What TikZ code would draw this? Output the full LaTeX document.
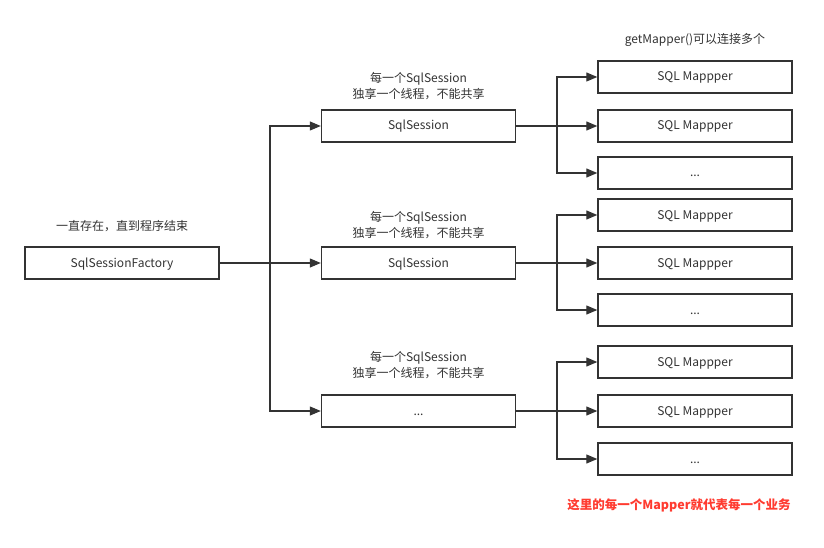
\documentclass[tikz,border=0pt]{standalone}
\usepackage{fontspec}
\setmainfont{Noto Sans CJK SC}
\usetikzlibrary{arrows.meta, positioning}
\definecolor{dline}{HTML}{333333}
\definecolor{dtext}{HTML}{333333}
\definecolor{dred}{HTML}{FF3B30}
\tikzset{
  ebox/.style={draw=dline, line width=1.4pt, fill=white, minimum width=194pt,
               minimum height=32pt, inner sep=0pt, text height=9pt, text depth=1pt,
               font=\fontsize{12}{14}\selectfont, text=dtext},
  note/.style={font=\fontsize{12}{16}\selectfont, text=dtext, align=center},
  arr/.style={-{Triangle[length=11pt, width=9pt]}, line width=1.1pt, dline},
  trunk/.style={line width=1.8pt, dline},
}
\begin{document}
\begin{tikzpicture}[x=1pt, y=-1pt]
  \useasboundingbox (0,0) rectangle (824,548);
  % factory and sessions
  \node[ebox] (fac) at (122,263) {SqlSessionFactory};
  \node[note] (facn) at (122,226) {一直存在，直到程序结束};
  \node[ebox] (s1) at (418.5,126) {SqlSession};
  \node[ebox] (s2) at (418.5,263) {SqlSession};
  \node[ebox] (s3) at (418.5,411) {...};
  \node[note] (s1n) at (418.5,86) {每一个SqlSession\\独享一个线程，不能共享};
  \node[note] (s2n) at (418.5,225) {每一个SqlSession\\独享一个线程，不能共享};
  \node[note] (s3n) at (418.5,365) {每一个SqlSession\\独享一个线程，不能共享};
  % mappers
  \node[ebox] (m11) at (695,77)  {SQL Mappper};
  \node[ebox] (m12) at (695,126) {SQL Mappper};
  \node[ebox] (m13) at (695,173) {...};
  \node[ebox] (m21) at (695,215) {SQL Mappper};
  \node[ebox] (m22) at (695,263) {SQL Mappper};
  \node[ebox] (m23) at (695,310) {...};
  \node[ebox] (m31) at (695,362) {SQL Mappper};
  \node[ebox] (m32) at (695,411) {SQL Mappper};
  \node[ebox] (m33) at (695,459) {...};
  \node[note] (mn) at (695,40) {getMapper()可以连接多个};
  \node[note, text=dred, font=\fontsize{12.5}{14}\selectfont\bfseries] (red) at (679,505)
    {这里的每一个Mapper就代表每一个业务};
  % branch points
  \coordinate (fb) at (270,263);
  \coordinate (b1) at (557,126);
  \coordinate (b2) at (557,263);
  \coordinate (b3) at (557,411);
  % connectors
  \draw[trunk] (fac.east) -- (fb);
  \draw[arr] (fb) |- (s1.west);
  \draw[arr] (fb) -- (s2.west);
  \draw[arr] (fb) |- (s3.west);
  \foreach \s in {1,2,3}{
    \draw[trunk] (s\s.east) -- (b\s);
    \draw[arr] (b\s) |- (m\s1.west);
    \draw[arr] (b\s) -- (m\s2.west);
    \draw[arr] (b\s) |- (m\s3.west);
  }
\end{tikzpicture}
\end{document}
